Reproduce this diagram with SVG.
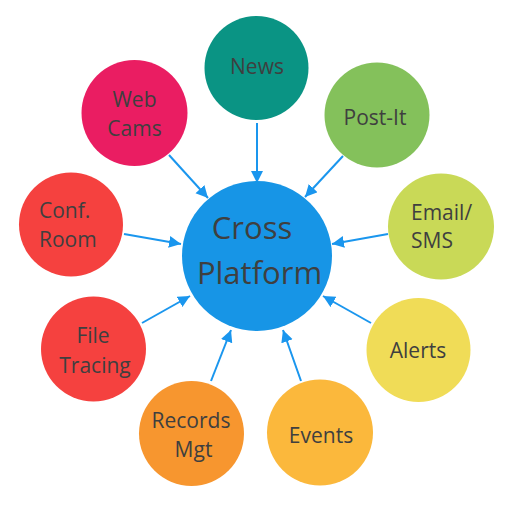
<svg xmlns="http://www.w3.org/2000/svg" width="512" height="512" viewBox="0 0 512 512">
<defs>
<style>
.lbl{font-family:"Open Sans","Noto Sans",sans-serif;font-size:21px;fill:#3f3f3f}
.big{font-family:"Open Sans","Noto Sans",sans-serif;font-size:31px;fill:#3f3f3f}
.c{text-anchor:middle}
.conn line{stroke:#1a96ee;stroke-width:2}
</style>
<marker id="ah" markerUnits="userSpaceOnUse" markerWidth="14" markerHeight="14" refX="12" refY="6" orient="auto">
<path d="M0,0 L12,6 L0,12 Z" fill="#1a96ee"/>
</marker>
</defs>
<rect width="512" height="512" fill="#ffffff"/>
<g id="connectors" class="conn">
<line x1="257" y1="123" x2="257" y2="183" marker-end="url(#ah)"/>
<line x1="169" y1="155" x2="208" y2="198" marker-end="url(#ah)"/>
<line x1="343" y1="156" x2="305" y2="197" marker-end="url(#ah)"/>
<line x1="124" y1="234" x2="181" y2="244" marker-end="url(#ah)"/>
<line x1="388" y1="234" x2="332" y2="244" marker-end="url(#ah)"/>
<line x1="142" y1="323" x2="190" y2="296" marker-end="url(#ah)"/>
<line x1="371" y1="323" x2="323" y2="296" marker-end="url(#ah)"/>
<line x1="211" y1="381" x2="231" y2="330" marker-end="url(#ah)"/>
<line x1="301" y1="381" x2="283" y2="330" marker-end="url(#ah)"/>
</g>
<g id="cross-platform">
<circle cx="257" cy="256" r="75" fill="#1795e6"/>
<text class="big c" x="252" y="239">Cross</text>
<text class="big c" x="259.5" y="284">Platform</text>
</g>
<g id="news">
<circle cx="256.5" cy="68" r="52" fill="#0a9484"/>
<text class="lbl c" x="257" y="74">News</text>
</g>
<g id="post-it">
<circle cx="377" cy="115" r="52.5" fill="#84c15b"/>
<text class="lbl c" x="375" y="125">Post-It</text>
</g>
<g id="email-sms">
<circle cx="441" cy="226.5" r="53" fill="#c9d957"/>
<text class="lbl" x="411" y="220">Email/</text>
<text class="lbl" x="411" y="248">SMS</text>
</g>
<g id="alerts">
<circle cx="418.5" cy="350" r="52" fill="#f0dc57"/>
<text class="lbl c" x="418" y="358">Alerts</text>
</g>
<g id="events">
<circle cx="320" cy="432.5" r="53" fill="#fbb83c"/>
<text class="lbl c" x="321" y="443">Events</text>
</g>
<g id="records-mgt">
<circle cx="191.5" cy="433.5" r="52.5" fill="#f7962f"/>
<text class="lbl c" x="191" y="428">Records</text>
<text class="lbl c" x="193.5" y="457">Mgt</text>
</g>
<g id="file-tracing">
<circle cx="93.5" cy="349" r="52.5" fill="#f5413f"/>
<text class="lbl c" x="93" y="343">File</text>
<text class="lbl c" x="95" y="373">Tracing</text>
</g>
<g id="conf-room">
<circle cx="71" cy="224.5" r="52" fill="#f5413f"/>
<text class="lbl" x="39" y="218">Conf.</text>
<text class="lbl" x="39" y="247">Room</text>
</g>
<g id="web-cams">
<circle cx="134.5" cy="113" r="53" fill="#ea1d62"/>
<text class="lbl c" x="134.5" y="107">Web</text>
<text class="lbl c" x="134.5" y="136">Cams</text>
</g>
</svg>
